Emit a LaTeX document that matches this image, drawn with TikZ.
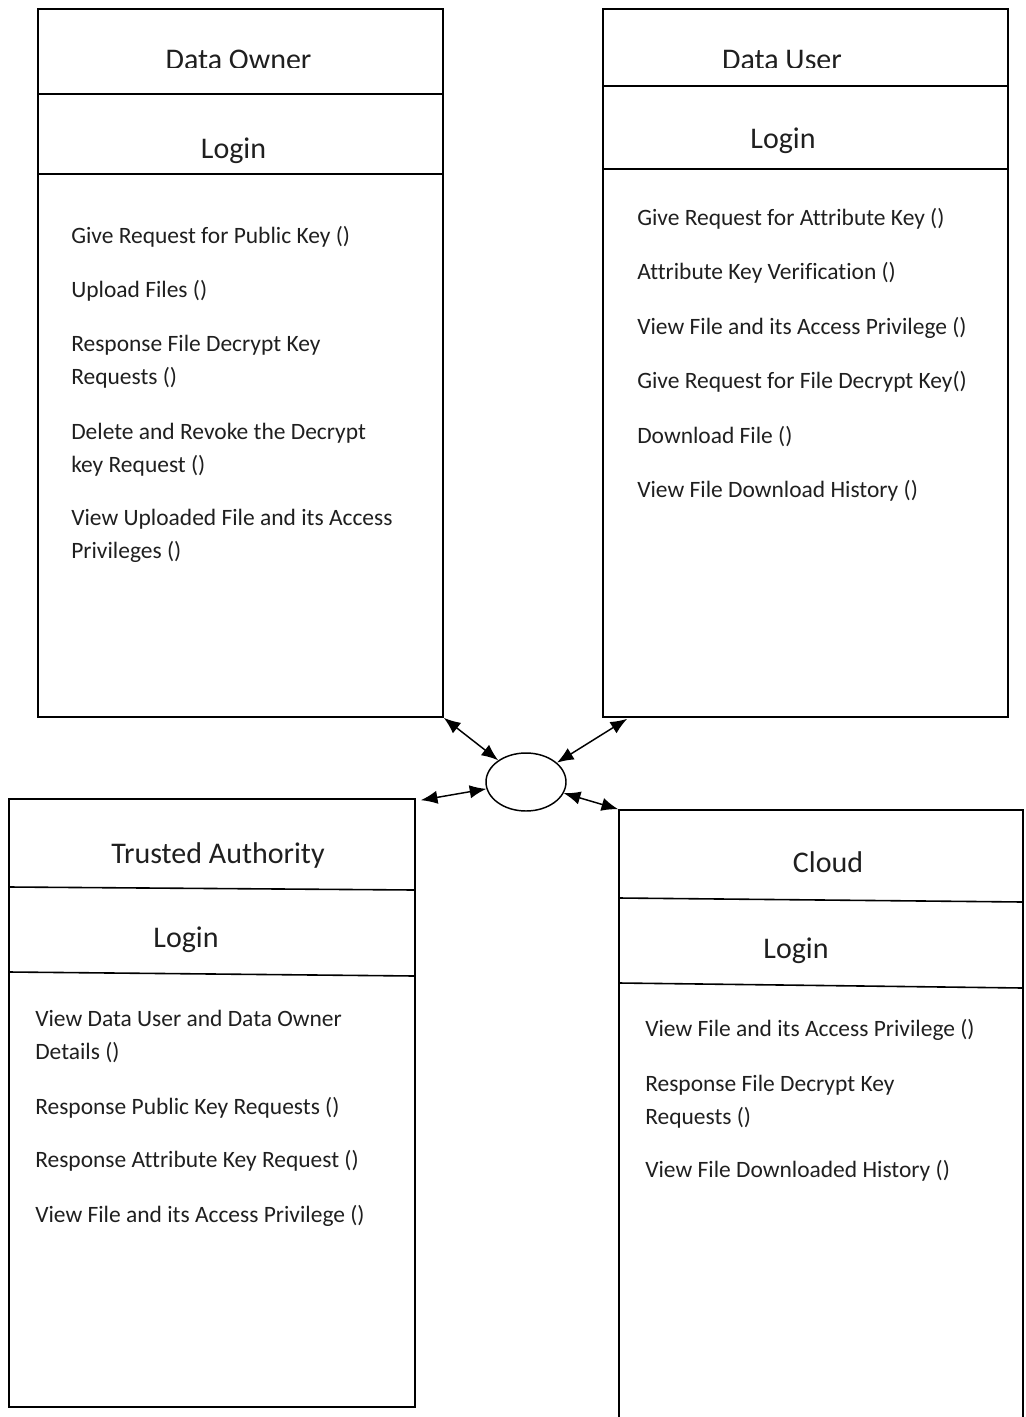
\documentclass[tikz,border=0pt]{standalone}
\usepackage{fontspec}
\setmainfont{Carlito}[Ligatures=NoCommon]
\usetikzlibrary{arrows.meta,shapes.geometric,fit,calc}

\begin{document}
\begin{tikzpicture}[x=0.75pt,y=-0.75pt,
  box/.style={draw, line width=1.2pt, inner sep=0pt},
  rule/.style={line width=1.2pt},
  title/.style={anchor=base, inner sep=0pt, text=black!88, font=\fontsize{22.5}{27}\selectfont},
  item/.style={anchor=base west, inner sep=0pt, text=black!88, font=\fontsize{17.6}{24}\selectfont},
  hubstyle/.style={ellipse, draw, line width=1.1pt, inner sep=0pt, minimum width=60pt, minimum height=43.5pt},
  conn/.style={line width=1.1pt, {Latex[length=12.5pt,width=10pt]}-{Latex[length=12.5pt,width=10pt]}}]

% page frame
\useasboundingbox (0,0) rectangle (1025,1417);
\clip (0,0) rectangle (1025,1417);

% ---------- Data Owner ----------
\node[box, fit={(38,9) (443,717)}] (do) {};
\draw[rule] (38,94) -- (443,94);
\draw[rule] (38,174) -- (443,174);
\begin{scope}
  \clip (38,30) rectangle (443,67.5);
  \node[title] (dotitle) at (238.5,69) {Data Owner};
\end{scope}
\node[title] (dologin) at (233.5,158) {Login};
\node[item] (do1)  at (71,243) {Give Request for Public Key ()};
\node[item] (do2)  at (71,297) {Upload Files ()};
\node[item] (do3a) at (71,351) {Response File Decrypt Key};
\node[item] (do3b) at (71,384) {Requests ()};
\node[item] (do4a) at (71,439) {Delete and Revoke the Decrypt};
\node[item] (do4b) at (71,472) {key Request ()};
\node[item] (do5a) at (71,525) {View Uploaded File and its Access};
\node[item] (do5b) at (71,558) {Privileges ()};

% ---------- Data User ----------
\node[box, fit={(603,9) (1008,717)}] (du) {};
\draw[rule] (603,86) -- (1008,86);
\draw[rule] (603,169) -- (1008,169);
\begin{scope}
  \clip (603,30) rectangle (1008,67.5);
  \node[title] (dutitle) at (782,69) {Data User};
\end{scope}
\node[title] (dulogin) at (783,148) {Login};
\node[item] (du1) at (637,225) {Give Request for Attribute Key ()};
\node[item] (du2) at (637,279) {Attribute Key Verification ()};
\node[item] (du3) at (637,334) {View File and its Access Privilege ()};
\node[item] (du4) at (637,388) {Give Request for File Decrypt Key()};
\node[item] (du5) at (637,443) {Download File ()};
\node[item] (du6) at (637,497) {View File Download History ()};

% ---------- Trusted Authority ----------
\node[box, fit={(9,799) (415,1407)}] (ta) {};
\draw[rule] (9,887) -- (415,890);
\draw[rule] (9,972) -- (415,976);
\node[title] (tatitle) at (218,863) {Trusted Authority};
\node[title] (talogin) at (186,947) {Login};
\node[item] (ta1a) at (35,1026) {View Data User and Data Owner};
\node[item] (ta1b) at (35,1059) {Details ()};
\node[item] (ta2)  at (35,1114) {Response Public Key Requests ()};
\node[item] (ta3)  at (35,1167) {Response Attribute Key Request ()};
\node[item] (ta4)  at (35,1222) {View File and its Access Privilege ()};

% ---------- Cloud ----------
\node[box, fit={(619,810) (1023,1440)}] (cloud) {};
\draw[rule] (619,898) -- (1023,902);
\draw[rule] (619,983) -- (1023,988);
\node[title] (cltitle) at (828,872) {Cloud};
\node[title] (cllogin) at (796,958) {Login};
\node[item] (cl1)  at (645,1036) {View File and its Access Privilege ()};
\node[item] (cl2a) at (645,1091) {Response File Decrypt Key};
\node[item] (cl2b) at (645,1124) {Requests ()};
\node[item] (cl3)  at (645,1177) {View File Downloaded History ()};

% ---------- central hub and links ----------
\node[hubstyle] (hub) at (526,782) {};
\draw[conn] (do.south east) -- (hub);
\draw[conn] ($(du.south west)+(25,1)$) -- (hub);
\draw[conn] ($(ta.north east)+(5,2)$) -- (hub);
\draw[conn] (hub) -- (cloud.north west);
\end{tikzpicture}
\end{document}
